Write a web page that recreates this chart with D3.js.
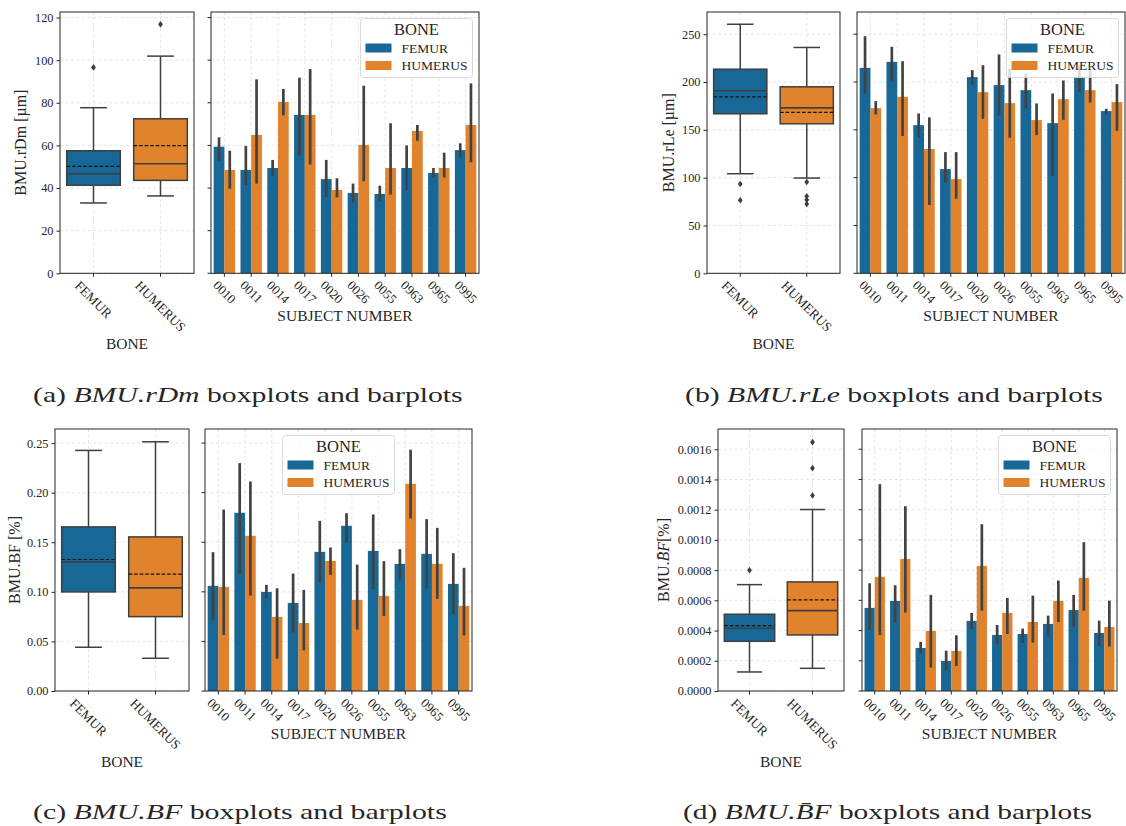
<!DOCTYPE html>
<html><head><meta charset="utf-8">
<script src="https://cdn.jsdelivr.net/npm/d3@7"></script>
<style>
html,body{margin:0;padding:0;background:#fff;}
svg text{font-family:"Liberation Serif","DejaVu Serif",serif;fill:#262626;}
</style></head>
<body>
<svg id="c" width="1126" height="826"></svg>
<script>
// ---------- DATA ----------
const subjects = ["0010","0011","0014","0017","0020","0026","0055","0963","0965","0995"];
const bones = ["FEMUR","HUMERUS"];
const colors = ["#176896","#e1832c"];

// Box stats per bone: [lowerWhisker, q1, median, q3, upperWhisker, mean]
const rdmBox = [[33.0,41.3,46.7,57.5,77.7,50.2],[36.3,43.6,51.4,72.5,101.9,59.9]];
const rdmOutliers = [[96.6],[116.8]];
const rdmFemur   = [59.4,48.5,49.4,74.3,44.2,37.7,37.2,49.4,47.1,57.8];
const rdmHumerus = [48.5,64.9,80.4,74.3,39.1,60.2,49.4,66.8,49.4,69.6];
const rdmFemurCI   = [[52.7,63.8],[41.4,59.7],[45.8,53.2],[55.3,91.8],[35.8,53.2],[33.3,42.1],[33.6,41.1],[39.1,60.0],[44.9,49.4],[54.4,61.0]];
const rdmHumerusCI = [[39.7,57.5],[42.1,91.0],[74.1,86.5],[51.0,95.8],[35.6,44.6],[43.2,88.0],[36.9,70.4],[62.2,69.6],[44.9,56.6],[52.1,89.1]];
const rdmTicks = [0,20,40,60,80,100,120];

const rleBox = [[104.1,166.8,190.8,213.4,260.4,184.5],[99.6,156.3,173.0,195.0,236.1,168.2]];
const rleOutliers = [[93.3,76.3],[95.5,80.5,76.8,72.5]];
const rleFemur   = [214.8,221.1,154.9,109.0,205.1,196.7,191.5,157.0,205.4,169.6];
const rleHumerus = [172.7,184.5,129.9,98.5,189.4,177.9,160.2,182.1,191.5,179.0];
const rleFemurCI   = [[188.0,247.9],[200.2,236.8],[141.7,167.1],[95.1,126.7],[197.4,212.4],[165.0,228.8],[172.4,208.9],[102.0,188.0],[190.0,218.0],[166.1,172.0]];
const rleHumerusCI = [[166.1,180.0],[143.5,221.8],[71.4,163.0],[78.0,126.7],[161.6,217.6],[141.7,214.1],[144.5,177.6],[160.5,201.6],[178.6,213.1],[149.0,197.8]];
const rleTicks = [0,50,100,150,200,250];

const bfBox = [[0.0441,0.0999,0.1302,0.1655,0.2426,0.1326],[0.0330,0.0750,0.1040,0.1554,0.2513,0.1178]];
const bfOutliers = [[],[]];
const bfFemur   = [0.106,0.1797,0.0999,0.0888,0.1403,0.1666,0.1413,0.1282,0.1383,0.108];
const bfHumerus = [0.105,0.1565,0.0747,0.0686,0.1312,0.0919,0.0959,0.2089,0.1282,0.0858];
const bfFemurCI   = [[0.0713,0.140],[0.1178,0.2298],[0.0929,0.107],[0.0589,0.1184],[0.109,0.1716],[0.1494,0.1793],[0.103,0.178],[0.1124,0.143],[0.1033,0.1733],[0.0774,0.139]];
const bfHumerusCI = [[0.0565,0.183],[0.0962,0.2113],[0.0326,0.1036],[0.041,0.102],[0.1171,0.1447],[0.0619,0.1275],[0.0757,0.1309],[0.174,0.2433],[0.0929,0.1645],[0.0559,0.1242]];
const bfTicks = [0,0.05,0.10,0.15,0.20,0.25];

const bfmBox = [[0.000126,0.000329,0.000415,0.000508,0.000704,0.000433],[0.000150,0.000371,0.000532,0.000722,0.001201,0.000603]];
const bfmOutliers = [[0.000799],[0.001294,0.001475,0.001647]];
const bfmFemur   = [0.000550,0.000596,0.000285,0.000199,0.000464,0.000371,0.000377,0.000444,0.000536,0.000384];
const bfmHumerus = [0.000755,0.000874,0.000397,0.000265,0.000828,0.000517,0.000457,0.000596,0.000748,0.000424];
const bfmFemurCI   = [[0.000404,0.000713],[0.000453,0.000700],[0.000249,0.000325],[0.000139,0.000267],[0.000411,0.000517],[0.000309,0.000437],[0.000318,0.000413],[0.000360,0.000499],[0.000426,0.000636],[0.000298,0.000466]];
const bfmHumerusCI = [[0.000371,0.001369],[0.000519,0.001223],[0.000155,0.000636],[0.000166,0.000369],[0.000532,0.001104],[0.000377,0.000616],[0.000320,0.000631],[0.000457,0.000731],[0.000532,0.000985],[0.000294,0.000598]];
const bfmTicks = [0,0.0002,0.0004,0.0006,0.0008,0.0010,0.0012,0.0014,0.0016];

// ---------- LAYOUT ----------
const panels = [
  {box:rdmBox,out:rdmOutliers,f:rdmFemur,h:rdmHumerus,fci:rdmFemurCI,hci:rdmHumerusCI,ticks:rdmTicks,fmt:d3.format("d"),ymax:122.6,
   top:12,bot:273.3,boxX:[60,194],barX:[211,479],legend:"right",ylabX:20,
   ylab:[["BMU.rDm [µm]",false]],cap:[["(a) ",false],["BMU.rDm",true],[" boxplots and barplots",false]],capX:[33,463],capY:402},
  {box:rleBox,out:rleOutliers,f:rleFemur,h:rleHumerus,fci:rleFemurCI,hci:rleHumerusCI,ticks:rleTicks,fmt:d3.format("d"),ymax:273.2,
   top:12,bot:273.3,boxX:[707,840],barX:[857,1125],legend:"right",ylabX:668,
   ylab:[["BMU.rLe [µm]",false]],cap:[["(b) ",false],["BMU.rLe",true],[" boxplots and barplots",false]],capX:[685,1103],capY:402},
  {box:bfBox,out:bfOutliers,f:bfFemur,h:bfHumerus,fci:bfFemurCI,hci:bfHumerusCI,ticks:bfTicks,fmt:d3.format(".2f"),ymax:0.2642,
   top:429,bot:691,boxX:[55,189],barX:[205,472],legend:"center",ylabX:14,
   ylab:[["BMU.BF [%]",false]],cap:[["(c) ",false],["BMU.BF",true],[" boxplots and barplots",false]],capX:[33,447],capY:819},
  {box:bfmBox,out:bfmOutliers,f:bfmFemur,h:bfmHumerus,fci:bfmFemurCI,hci:bfmHumerusCI,ticks:bfmTicks,fmt:d3.format(".4f"),ymax:0.001734,
   top:429,bot:691,boxX:[718,844],barX:[862,1117],legend:"right",ylabX:663,
   ylab:[["BMU.",false],["B\u0304F",true],["[%]",false]],cap:[["(d) ",false],["BMU.B\u0304F",true],[" boxplots and barplots",false]],capX:[683,1092],capY:819}
];

const svg = d3.select("#c");
const EDGE = "#262626", GRID = "#dedede", LINE = "#3f3f3f";

function grid(g, x0, x1, y, ticks, xs, top, bot){
  g.selectAll(null).data(ticks).join("line")
    .attr("x1",x0).attr("x2",x1).attr("y1",d=>y(d)).attr("y2",d=>y(d))
    .attr("stroke",GRID).attr("stroke-width",0.8).attr("stroke-dasharray","3,2.5");
  g.selectAll(null).data(xs).join("line")
    .attr("x1",d=>d).attr("x2",d=>d).attr("y1",top).attr("y2",bot)
    .attr("stroke",GRID).attr("stroke-width",0.8).attr("stroke-dasharray","3,2.5");
}
function frame(g,x0,x1,top,bot){
  g.append("rect").attr("x",x0).attr("y",top).attr("width",x1-x0).attr("height",bot-top)
    .attr("fill","none").attr("stroke",EDGE).attr("stroke-width",1);
}
function rotLabels(g, xs, labels, bot, fs){
  labels.forEach((t,i)=>{
    const el = g.append("text").attr("font-size",fs).text(t);
    const L = el.node().getComputedTextLength();
    const half = (L*0.7071 + fs*0.66*0.7071)/2;
    el.attr("text-anchor","middle").attr("dominant-baseline","central")
      .attr("transform",`translate(${xs[i]},${bot+7+half}) rotate(45)`);
  });
}

panels.forEach(p=>{
  const g = svg.append("g");
  const y = d3.scaleLinear().domain([0,p.ymax]).range([p.bot,p.top]);

  // ---------------- BOXPLOT ----------------
  const xb = d3.scaleBand().domain(bones).range(p.boxX).padding(0);
  const bc = bones.map(b=>xb(b)+xb.bandwidth()/2);
  grid(g,p.boxX[0],p.boxX[1],y,p.ticks,bc,p.top,p.bot);
  const bw = xb.bandwidth()*0.8;
  bones.forEach((b,i)=>{
    const [lo,q1,med,q3,hi,mean] = p.box[i];
    const cx = bc[i];
    g.append("line").attr("x1",cx).attr("x2",cx).attr("y1",y(q3)).attr("y2",y(hi)).attr("stroke",LINE).attr("stroke-width",1.5);
    g.append("line").attr("x1",cx).attr("x2",cx).attr("y1",y(q1)).attr("y2",y(lo)).attr("stroke",LINE).attr("stroke-width",1.5);
    g.append("line").attr("x1",cx-bw/4).attr("x2",cx+bw/4).attr("y1",y(hi)).attr("y2",y(hi)).attr("stroke",LINE).attr("stroke-width",1.5);
    g.append("line").attr("x1",cx-bw/4).attr("x2",cx+bw/4).attr("y1",y(lo)).attr("y2",y(lo)).attr("stroke",LINE).attr("stroke-width",1.5);
    g.append("rect").attr("x",cx-bw/2).attr("y",y(q3)).attr("width",bw).attr("height",y(q1)-y(q3))
      .attr("fill",colors[i]).attr("stroke",LINE).attr("stroke-width",1.5);
    g.append("line").attr("x1",cx-bw/2).attr("x2",cx+bw/2).attr("y1",y(med)).attr("y2",y(med)).attr("stroke",LINE).attr("stroke-width",1.6);
    g.append("line").attr("x1",cx-bw/2).attr("x2",cx+bw/2).attr("y1",y(mean)).attr("y2",y(mean)).attr("stroke","#111").attr("stroke-width",1.2).attr("stroke-dasharray","3.5,2");
    g.selectAll(null).data(p.out[i]).join("path")
      .attr("d","M0,-3.3L2.4,0L0,3.3L-2.4,0Z").attr("fill",LINE)
      .attr("transform",d=>`translate(${cx},${y(d)})`);
  });
  frame(g,p.boxX[0],p.boxX[1],p.top,p.bot);
  const ya = g.append("g").attr("transform",`translate(${p.boxX[0]},0)`)
    .call(d3.axisLeft(y).tickValues(p.ticks).tickFormat(p.fmt).tickSize(3.5).tickPadding(3));
  ya.select(".domain").remove();
  ya.selectAll("line").attr("stroke",EDGE);
  ya.selectAll("text").attr("font-size",12.3).style("font-family","Liberation Serif, serif").attr("fill","#262626");
  g.selectAll(null).data(bc).join("line").attr("x1",d=>d).attr("x2",d=>d).attr("y1",p.bot).attr("y2",p.bot+3.5).attr("stroke",EDGE);
  rotLabels(g,bc,bones,p.bot,13.3);
  g.append("text").attr("x",(p.boxX[0]+p.boxX[1])/2).attr("y",p.bot+76).attr("text-anchor","middle").attr("font-size",15.5).text("BONE");
  const yl = g.append("text").attr("font-size",16).attr("text-anchor","middle").attr("dominant-baseline","central")
    .attr("transform",`translate(${p.ylabX},${(p.top+p.bot)/2}) rotate(-90)`);
  p.ylab.forEach(([t,it])=>yl.append("tspan").attr("font-style",it?"italic":null).text(t));

  // ---------------- BARPLOT ----------------
  const xs = d3.scaleBand().domain(subjects).range(p.barX).padding(0);
  const sc = subjects.map(s=>xs(s)+xs.bandwidth()/2);
  grid(g,p.barX[0],p.barX[1],y,p.ticks,sc,p.top,p.bot);
  const hw = xs.bandwidth()*0.4;
  const series = [[p.f,p.fci],[p.h,p.hci]];
  series.forEach(([vals,ci],k)=>{
    g.selectAll(null).data(vals).join("rect")
      .attr("x",(d,i)=>xs(subjects[i])+xs.bandwidth()*0.1+k*hw).attr("width",hw)
      .attr("y",d=>y(d)).attr("height",d=>p.bot-y(d)).attr("fill",colors[k]);
  });
  series.forEach(([vals,ci],k)=>{
    g.selectAll(null).data(ci).join("line")
      .attr("x1",(d,i)=>xs(subjects[i])+xs.bandwidth()*0.1+k*hw+hw/2)
      .attr("x2",(d,i)=>xs(subjects[i])+xs.bandwidth()*0.1+k*hw+hw/2)
      .attr("y1",d=>y(d[0])).attr("y2",d=>y(d[1]))
      .attr("stroke","#424242").attr("stroke-width",2.7);
  });
  frame(g,p.barX[0],p.barX[1],p.top,p.bot);
  g.selectAll(null).data(p.ticks).join("line").attr("x1",p.barX[0]-3.5).attr("x2",p.barX[0]).attr("y1",d=>y(d)).attr("y2",d=>y(d)).attr("stroke",EDGE);
  g.selectAll(null).data(sc).join("line").attr("x1",d=>d).attr("x2",d=>d).attr("y1",p.bot).attr("y2",p.bot+3.5).attr("stroke",EDGE);
  rotLabels(g,sc,subjects,p.bot,12.8);
  g.append("text").attr("x",(p.barX[0]+p.barX[1])/2).attr("y",p.bot+48).attr("text-anchor","middle").attr("font-size",15.5).text("SUBJECT NUMBER");

  // legend
  const LW=112, LH=59;
  const lx = p.legend==="right" ? p.barX[1]-6.5-LW : (p.barX[0]+p.barX[1])/2-LW/2;
  const ly = p.top+6.5;
  const lg = g.append("g").attr("transform",`translate(${lx},${ly})`);
  lg.append("rect").attr("width",LW).attr("height",LH).attr("rx",3)
    .attr("fill","#fff").attr("fill-opacity",0.8).attr("stroke","#d5d5d5").attr("stroke-width",0.9);
  lg.append("text").attr("x",LW/2).attr("y",16).attr("text-anchor","middle").attr("font-size",16.5).text("BONE");
  bones.forEach((b,i)=>{
    lg.append("rect").attr("x",5).attr("y",25+i*17.5).attr("width",26).attr("height",9).attr("fill",colors[i]);
    lg.append("text").attr("x",41).attr("y",29.5+i*17.5).attr("dominant-baseline","central").attr("font-size",13.5).text(b);
  });

  // caption
  const cp = svg.append("text").attr("x",0).attr("y",0).attr("font-size",22);
  p.cap.forEach(([t,it])=>cp.append("tspan").attr("font-style",it?"italic":null).text(t));
  const w = cp.node().getComputedTextLength();
  const s = (p.capX[1]-p.capX[0])/w;
  cp.attr("transform",`translate(${p.capX[0]},${p.capY}) scale(${s},1)`);
});
</script>
</body></html>
